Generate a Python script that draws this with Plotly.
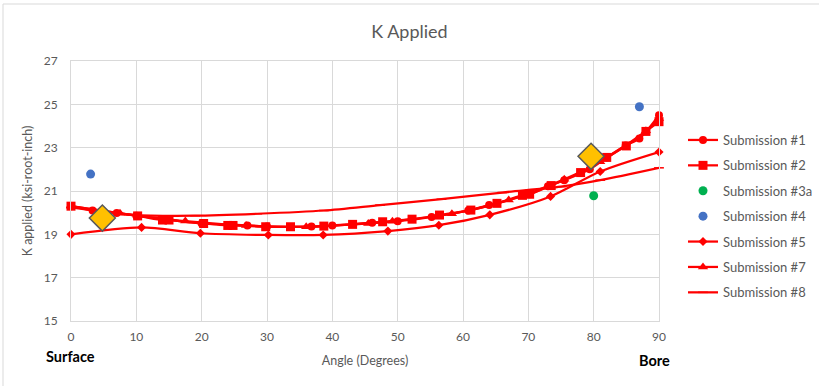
import plotly.graph_objects as go

# --- data -------------------------------------------------------------
sub1_x = [0, 3.3, 7, 10, 20, 27, 30, 36.8, 40, 46.1, 50, 55.2, 60.8, 64.0, 70.2, 73, 75.5, 79.4, 82, 84.9, 87, 90]
sub1_y = [20.3, 20.1, 19.98, 19.86, 19.5, 19.41, 19.36, 19.36, 19.41, 19.54, 19.6, 19.8, 20.1, 20.35, 20.85, 21.22, 21.5, 22.0, 22.55, 23.1, 23.42, 24.5]

sub2_x = [0, 10.2, 14, 15, 20.3, 24, 24.8, 29.8, 33.6, 38.7, 43.1, 47.7, 52.2, 56.4, 61.2, 65.2, 69.1, 70.2, 73.5, 78, 82, 85, 88, 90]
sub2_y = [20.3, 19.85, 19.66, 19.66, 19.5, 19.41, 19.41, 19.35, 19.35, 19.38, 19.46, 19.58, 19.7, 19.89, 20.12, 20.43, 20.8, 20.85, 21.25, 21.85, 22.55, 23.08, 23.75, 24.2]

sub3a_x = [80]
sub3a_y = [20.78]

sub4_x = [3.0, 87.0]
sub4_y = [21.78, 24.89]

sub5_x = [0, 10.8, 19.8, 30.2, 38.6, 48.5, 56.3, 64.1, 73.4, 81, 90]
sub5_y = [19.0, 19.32, 19.05, 18.97, 18.97, 19.15, 19.42, 19.9, 20.75, 21.9, 22.8]

sub6_x = [4.8, 79.6]
sub6_y = [19.75, 22.6]

sub7_x = [0, 7.5, 17.5, 26.8, 36, 45.5, 49.2, 58.3, 67.0, 75.5, 81, 88, 90]
sub7_y = [20.3, 19.97, 19.61, 19.41, 19.35, 19.5, 19.6, 19.95, 20.58, 21.54, 22.35, 23.78, 24.35]

sub8_x = [0, 9.5, 19, 28.5, 38.7, 47.3, 56.7, 66, 75, 81, 90]
sub8_y = [20.25, 19.9, 19.86, 19.95, 20.1, 20.35, 20.62, 20.93, 21.2, 21.5, 22.07]

x_ticks = [0, 10, 20, 30, 40, 50, 60, 70, 80, 90]
y_ticks = [15, 17, 19, 21, 23, 25, 27]

# --- styling ----------------------------------------------------------
RED = "#FF0000"
GREY_TXT = "#595959"
GRID = "#D9D9D9"
FONT = "Lato, 'Open Sans', sans-serif"

fig = go.Figure()


def red_series(name, xs, ys, symbol, size, group):
    fig.add_trace(go.Scatter(
        x=xs, y=ys, name=name, mode="lines+markers", cliponaxis=False,
        line=dict(color=RED, width=2.25, shape="spline", smoothing=0.8),
        marker=dict(symbol=symbol, size=size, color=RED,
                    line=dict(color=RED, width=1.5 if symbol == "line-ew" else 0)),
        legendgroup=group,
    ))


red_series("Submission #1", sub1_x, sub1_y, "circle", 8, "g1")
red_series("Submission #2", sub2_x, sub2_y, "square", 9, "g2")

fig.add_trace(go.Scatter(
    x=sub3a_x, y=sub3a_y, name="Submission #3a", mode="markers",
    marker=dict(symbol="circle", size=9, color="#00B050"), legendgroup="g3",
))
fig.add_trace(go.Scatter(
    x=sub4_x, y=sub4_y, name="Submission #4", mode="markers",
    marker=dict(symbol="circle", size=9, color="#4472C4"), legendgroup="g4",
))

red_series("Submission #5", sub5_x, sub5_y, "diamond", 7, "g5")
red_series("Submission #7", sub7_x, sub7_y, "triangle-up", 9, "g7")
red_series("Submission #8", sub8_x, sub8_y, "line-ew", 7, "g8")

fig.add_trace(go.Scatter(
    x=sub6_x, y=sub6_y, name="Submission #6", mode="markers", showlegend=False,
    cliponaxis=False,
    marker=dict(symbol="diamond", size=20, color="#FFC000",
                line=dict(color="#595959", width=1.5)),
))

axis_common = dict(
    showgrid=True, gridcolor=GRID, gridwidth=1,
    showline=True, linecolor=GRID, linewidth=1, mirror=True,
    zeroline=False, ticks="",
    tickfont=dict(family=FONT, size=12, color=GREY_TXT),
)

fig.update_layout(
    width=819, height=386,
    paper_bgcolor="white", plot_bgcolor="white",
    margin=dict(l=71, r=160, t=61, b=65),
    font=dict(family=FONT, color=GREY_TXT),
    title=dict(text="K Applied", x=0.5, xanchor="center", y=1 - 32 / 386, yanchor="middle",
               font=dict(family=FONT, size=18, color=GREY_TXT)),
    xaxis=dict(range=[0, 90], tickvals=x_ticks, ticklabelstandoff=5,
               title=dict(text="Angle (Degrees)", standoff=12,
                          font=dict(family=FONT, size=12.5, color=GREY_TXT)),
               **axis_common),
    yaxis=dict(range=[15, 27], tickvals=y_ticks, ticklabelstandoff=10,
               title=dict(text="K applied (ksi-root-inch)", standoff=8,
                          font=dict(family=FONT, size=12.5, color=GREY_TXT)),
               **axis_common),
    legend=dict(xref="container", yref="container",
                x=683 / 819, xanchor="left", y=1 - 216.5 / 386, yanchor="middle",
                font=dict(family=FONT, size=13, color=GREY_TXT),
                tracegroupgap=5.5, itemwidth=30, borderwidth=0,
                bgcolor="rgba(0,0,0,0)"),
    showlegend=True,
)

# end-point labels under the angle axis
fig.add_annotation(text="<b>Surface</b>", x=-0.046, xref="paper", y=-35 / 260, yref="paper",
                   xanchor="left", yanchor="middle", showarrow=False,
                   font=dict(family=FONT, size=14.5, color="#000000"))
fig.add_annotation(text="<b>Bore</b>", x=1.022, xref="paper", y=-39 / 260, yref="paper",
                   xanchor="right", yanchor="middle", showarrow=False,
                   font=dict(family=FONT, size=14.5, color="#000000"))

# chart frame
fig.add_shape(type="rect", xref="paper", yref="paper",
              x0=(3 - 71) / 588, x1=(840 - 71) / 588,
              y0=(321 - 400) / 260, y1=(321 - 4) / 260,
              line=dict(color="#D9D9D9", width=1), layer="below")

fig.write_html("out.html")
